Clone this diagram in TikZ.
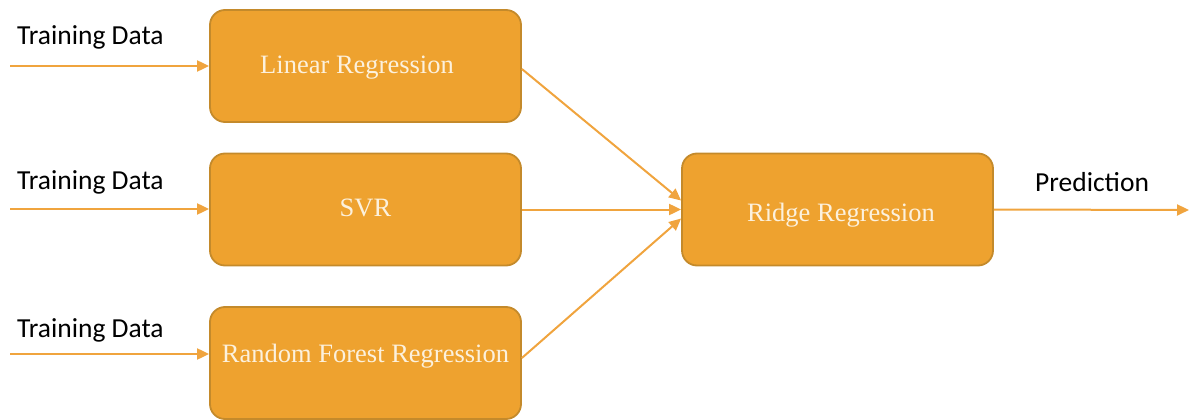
\documentclass[tikz,border=0pt]{standalone}
\usepackage{fontspec}
\setmainfont{Liberation Serif}
\newfontfamily\labelfont{Carlito}
\usetikzlibrary{arrows.meta,calc}
\definecolor{boxfill}{HTML}{EEA22F}
\definecolor{boxedge}{HTML}{C48A2B}
\definecolor{flow}{HTML}{F0A43E}
\definecolor{boxtext}{HTML}{FCF1DD}
\begin{document}
\begin{tikzpicture}[x=1pt,y=-1pt,
  model/.style={draw=boxedge,line width=1.8pt,fill=boxfill,rounded corners=15pt,
    minimum width=311pt,minimum height=112pt,inner sep=0pt},
  modeltext/.style={text=boxtext,inner sep=0pt,font=\fontsize{26.5}{30}\selectfont},
  flowline/.style={draw=flow,line width=2pt,-{Triangle[length=12pt,width=11pt]}},
  tag/.style={anchor=west,inner sep=0pt,font=\labelfont\fontsize{27.5}{32}\selectfont,text=black}]
\useasboundingbox (0,0) rectangle (1189,420);
% four model boxes with their captions
\node[model] (lin) at (365.5,66) {};
\node[model] (svr) at (365.5,209.5) {};
\node[model] (rf) at (365.5,363) {};
\node[model] (ridge) at (837.5,209.5) {};
\node[modeltext] (lintext) at (357,68) {Linear Regression};
\node[modeltext] (svrtext) at (365.5,208) {SVR};
\node[modeltext] (rftext) at (365.5,356) {Random Forest Regression};
\node[modeltext] (ridgetext) at (841,215) {Ridge Regression};
% training data inputs
\coordinate (in1) at (10,66);
\coordinate (in2) at (10,209);
\coordinate (in3) at (10,354);
\draw[flowline] (in1) -- (lin.west);
\draw[flowline] (in2) -- (svr.west |- in2);
\draw[flowline] (in3) -- (rf.west |- in3);
\node[tag] (t1) at (17,37) {Training Data};
\node[tag] (t2) at (17,182) {Training Data};
\node[tag] (t3) at (17,330) {Training Data};
% model outputs into the stacking regressor
\draw[flowline] ($(lin.east)+(0,3)$) -- ($(ridge.west)+(0,-9)$);
\draw[flowline] (svr.east) -- (ridge.west);
\draw[flowline] ($(rf.east)+(0,-5)$) -- ($(ridge.west)+(0,9)$);
% final prediction
\coordinate (out) at (1189,210);
\draw[flowline] (ridge.east) -- (out);
\node[tag] (pred) at (1035,182) {Prediction};
\end{tikzpicture}
\end{document}
